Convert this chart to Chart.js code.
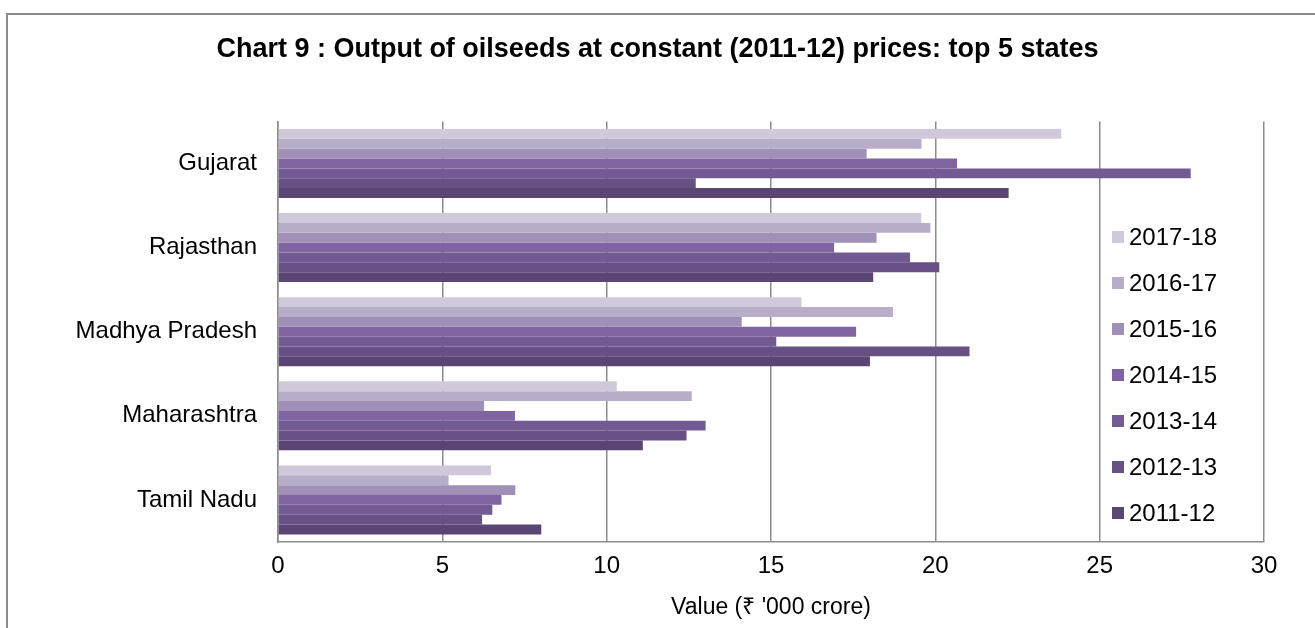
<!DOCTYPE html>
<html>
<head>
<meta charset="utf-8">
<script src="https://cdn.jsdelivr.net/npm/chart.js@4.4.1/dist/chart.umd.min.js"></script>
<style>
  html, body { margin: 0; padding: 0; background: #fff; overflow: hidden; }
  #wrap { position: relative; width: 1315px; height: 628px; }
  #frame { position: absolute; left: 6px; top: 13px; width: 1400px; height: 1000px; border: 2px solid #8c8c8c; }
  #chart-canvas { position: absolute; left: 0; top: 0; }
</style>
</head>
<body>
<div id="wrap">
  <div id="frame"></div>
  <canvas id="chart-canvas" width="1315" height="628"></canvas>
</div>
<script>
const states = ["Gujarat", "Rajasthan", "Madhya Pradesh", "Maharashtra", "Tamil Nadu"];
const years = ["2017-18", "2016-17", "2015-16", "2014-15", "2013-14", "2012-13", "2011-12"];
const colors = ["#d0c9dc", "#b8adc9", "#a08fb7", "#8064a2", "#725a92", "#675084", "#5b4573"];

// rs '000 crore, one array per year
const y2017_18 = [23.83, 19.57, 15.93, 10.31, 6.48];
const y2016_17 = [19.58, 19.85, 18.71, 12.59, 5.19];
const y2015_16 = [17.91, 18.21, 14.11, 6.27, 7.22];
const y2014_15 = [20.66, 16.92, 17.59, 7.21, 6.80];
const y2013_14 = [27.77, 19.23, 15.16, 13.01, 6.52];
const y2012_13 = [12.71, 20.12, 21.04, 12.43, 6.21];
const y2011_12 = [22.23, 18.11, 18.01, 11.10, 8.01];
const xTicks = [0, 5, 10, 15, 20, 25, 30];

const series = [y2017_18, y2016_17, y2015_16, y2014_15, y2013_14, y2012_13, y2011_12];
const FONT = "'Liberation Sans', Arial, sans-serif";

document.addEventListener("DOMContentLoaded", main);

function main() {
  const ctx = document.getElementById("chart-canvas").getContext("2d");

  // legend sits inside the plot, between the 25 and 30 grid lines
  const insideLegend = {
    id: "insideLegend",
    afterDraw(chart) {
      const c = chart.ctx;
      c.save();
      c.font = "24px " + FONT;
      c.textBaseline = "middle";
      c.textAlign = "left";
      chart.data.datasets.forEach((ds, i) => {
        const cy = 237 + i * 46;
        c.fillStyle = ds.backgroundColor;
        c.fillRect(1112, cy - 6, 12, 12);
        c.fillStyle = "#000";
        c.fillText(ds.label, 1129, cy + 1);
      });
      c.restore();
    },
  };

  new Chart(ctx, {
    type: "bar",
    data: {
      labels: states,
      datasets: years.map((y, i) => ({
        label: y,
        data: series[i],
        backgroundColor: colors[i],
        borderWidth: 0,
        categoryPercentage: 0.82,
        barPercentage: 1.0,
      })),
    },
    options: {
      indexAxis: "y",
      responsive: false,
      animation: false,
      layout: { padding: { left: 51, right: 51, top: 0, bottom: 0 } },
      plugins: {
        legend: { display: false },
        tooltip: { enabled: false },
        title: {
          display: true,
          text: "Chart 9 : Output of oilseeds at constant (2011-12) prices: top 5 states",
          color: "#000",
          font: { family: FONT, size: 27, weight: "bold" },
          padding: { top: 33, bottom: 56 },
        },
      },
      scales: {
        x: {
          min: 0,
          max: 30,
          afterBuildTicks: (axis) => { axis.ticks = xTicks.map((v) => ({ value: v })); },
          afterFit: (axis) => { axis.height = 86; },
          grid: { color: "#8c8c8c", lineWidth: 1.5, drawTicks: false },
          border: { color: "#8c8c8c", width: 1.5 },
          ticks: { color: "#000", font: { family: FONT, size: 24 }, padding: 10 },
          title: {
            display: true,
            text: "Value (₹ '000 crore)",
            color: "#000",
            font: { family: FONT, size: 23 },
            padding: { top: 4, bottom: 7 },
          },
        },
        y: {
          afterFit: (axis) => { axis.width = 227; },
          grid: { display: false, drawTicks: false },
          border: { color: "#8c8c8c", width: 1.5 },
          ticks: { color: "#000", font: { family: FONT, size: 24 }, padding: 21 },
        },
      },
    },
    plugins: [insideLegend],
  });
}
</script>
</body>
</html>
